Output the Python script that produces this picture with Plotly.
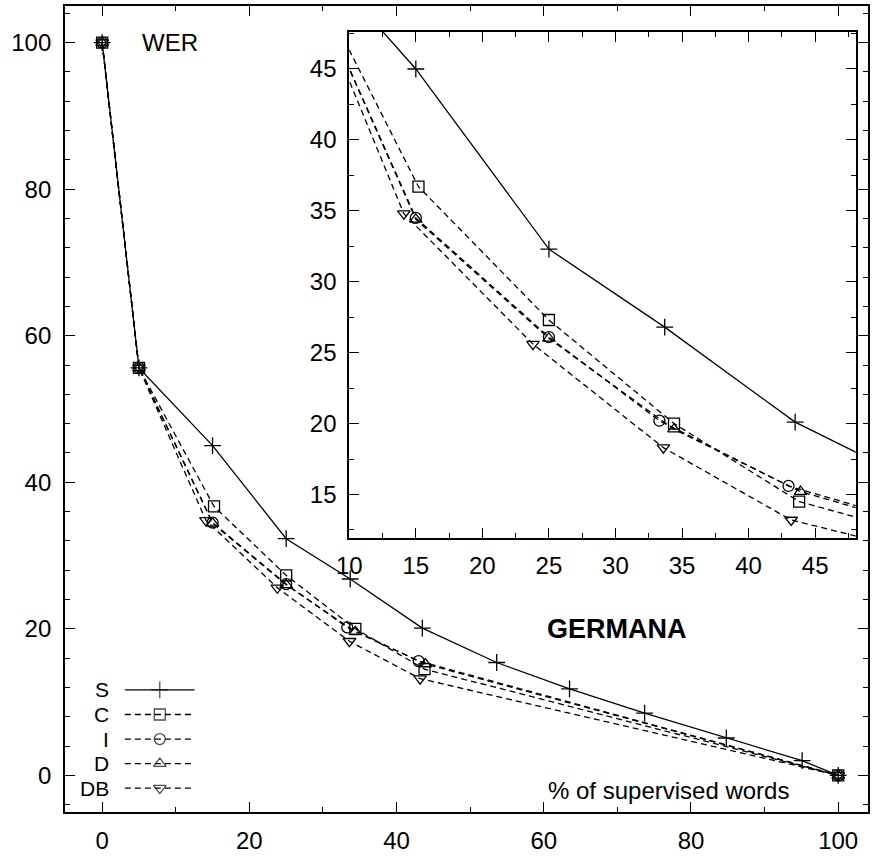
import plotly.graph_objects as go

# ---------------- data ----------------
s_x = [0, 5, 15, 25, 33.7, 43.5, 53.6, 63.5, 73.7, 84.8, 95.1, 100]
s_y = [100, 55.6, 45.0, 32.3, 26.8, 20.1, 15.4, 11.8, 8.5, 5.1, 2.0, 0]

c_x = [0, 5, 15.2, 25.0, 34.4, 43.8, 100]
c_y = [100, 55.6, 36.7, 27.3, 20.0, 14.5, 0]

i_x = [0, 5, 15.0, 25.0, 33.3, 43.0, 100]
i_y = [100, 55.6, 34.5, 26.1, 20.2, 15.6, 0]

d_x = [0, 5, 15.0, 25.0, 34.4, 43.9, 100]
d_y = [100, 55.6, 34.4, 26.0, 19.6, 15.2, 0]

db_x = [0, 5, 14.1, 23.8, 33.6, 43.2, 100]
db_y = [100, 55.6, 34.8, 25.6, 18.3, 13.2, 0]

series_names = ["S", "C", "I", "D", "DB"]
main_ticks = [0, 20, 40, 60, 80, 100]
inset_xticks = [10, 15, 20, 25, 30, 35, 40, 45]
inset_yticks = [15, 20, 25, 30, 35, 40, 45]

FONT = "Liberation Sans, Arial, Helvetica, sans-serif"
BLACK = "black"
FS = 24

styles = {
    "S": dict(symbol="cross-thin-open", dash="solid", size=12),
    "C": dict(symbol="square-open", dash="6px,4px", size=11),
    "I": dict(symbol="circle-open", dash="6px,4px", size=11),
    "D": dict(symbol="triangle-up-open", dash="6px,4px", size=11),
    "DB": dict(symbol="triangle-down-open", dash="6px,4px", size=11),
}
data = {"S": (s_x, s_y), "C": (c_x, c_y), "I": (i_x, i_y),
        "D": (d_x, d_y), "DB": (db_x, db_y)}

fig = go.Figure()

for axes in [("x", "y"), ("x2", "y2")]:
    for name in series_names:
        xs, ys = data[name]
        st = styles[name]
        fig.add_trace(go.Scatter(
            x=xs, y=ys, mode="lines+markers", xaxis=axes[0], yaxis=axes[1],
            line=dict(color=BLACK, width=1.3, dash=st["dash"]),
            marker=dict(symbol=st["symbol"], size=st["size"], color=BLACK,
                        line=dict(color=BLACK, width=1.3)),
            showlegend=False, hoverinfo="skip"))

# custom legend (text left of sample, gnuplot style)
legend_pos = [0, 0.5, 1]
for k, name in enumerate(series_names):
    st = styles[name]
    yk = len(series_names) - 1 - k
    fig.add_trace(go.Scatter(
        x=legend_pos, y=[yk] * 3, mode="lines+markers", xaxis="x3", yaxis="y3",
        line=dict(color=BLACK, width=1.3, dash=st["dash"]),
        marker=dict(symbol=st["symbol"], size=[0, st["size"], 0], color=BLACK,
                    line=dict(color=BLACK, width=1.3)),
        showlegend=False, hoverinfo="skip"))
    fig.add_annotation(x=-0.22, y=yk, xref="x3", yref="y3", text=name,
                       showarrow=False, xanchor="right", yanchor="middle",
                       borderpad=0,
                       font=dict(family=FONT, size=21, color=BLACK))

axis_common = dict(showline=True, linecolor=BLACK, linewidth=1.8, mirror="allticks",
                   ticks="inside", ticklen=10, tickwidth=1.3, tickcolor=BLACK,
                   showgrid=False, zeroline=False,
                   tickfont=dict(family=FONT, size=FS, color=BLACK))

fig.update_layout(
    width=872, height=856,
    margin=dict(l=65, r=2, t=6, b=38),
    plot_bgcolor="white", paper_bgcolor="white",
    font=dict(family=FONT, size=FS, color=BLACK),
    xaxis=dict(**axis_common, range=[-5.05, 104.05], tickvals=main_ticks,
               minor=dict(ticks="inside", dtick=10, tick0=0, ticklen=5, tickwidth=1.3,
                          tickcolor=BLACK, showgrid=False),
               domain=[0, 1], ticklabelstandoff=6),
    yaxis=dict(**axis_common, range=[-5, 105], tickvals=main_ticks,
               minor=dict(ticks="inside", dtick=4, tick0=0, ticklen=5, tickwidth=1.3,
                          tickcolor=BLACK, showgrid=False),
               domain=[0, 1], ticklabelstandoff=7),
    xaxis2=dict(**axis_common, range=[10, 48.05], tickvals=inset_xticks,
                minor=dict(ticks="inside", dtick=2.5, tick0=0, ticklen=5, tickwidth=1.3,
                           tickcolor=BLACK, showgrid=False),
                domain=[0.354, 0.9847], anchor="y2", ticklabelstandoff=6),
    yaxis2=dict(**axis_common, range=[11.95, 47.6], tickvals=inset_yticks,
                minor=dict(ticks="inside", dtick=2.5, tick0=0, ticklen=5, tickwidth=1.3,
                           tickcolor=BLACK, showgrid=False),
                domain=[0.3403, 0.9676], anchor="x2", ticklabelstandoff=6),
    xaxis3=dict(visible=False, range=[-0.5, 1], domain=[0.0311, 0.1615], anchor="y3"),
    yaxis3=dict(visible=False, range=[-0.5, 4.5], domain=[0.0143, 0.1667], anchor="x3"),
)

fig.add_annotation(x=5, y=100, xref="x", yref="y", text="WER", showarrow=False,
                   xanchor="left", yanchor="middle", xshift=1,
                   font=dict(family=FONT, size=FS, color=BLACK))
fig.add_annotation(x=70, y=20, xref="x", yref="y", text="<b>GERMANA</b>", showarrow=False,
                   xanchor="center", yanchor="middle",
                   font=dict(family=FONT, size=27, color=BLACK))
fig.add_annotation(x=76.9, y=-2, xref="x", yref="y", text="% of supervised words",
                   showarrow=False, xanchor="center", yanchor="middle",
                   font=dict(family=FONT, size=FS, color=BLACK))

fig.write_html("out.html")
